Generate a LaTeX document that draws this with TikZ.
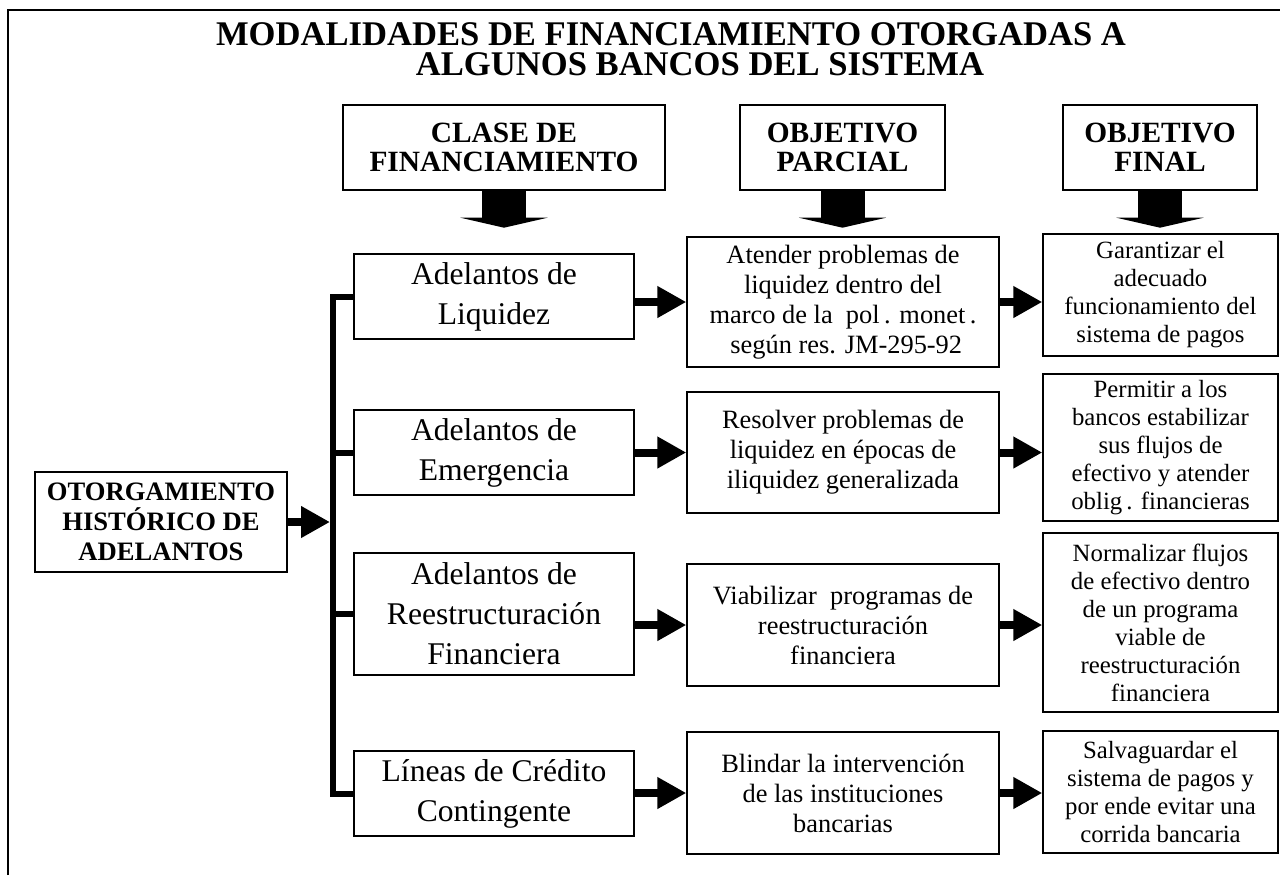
\documentclass[tikz,border=0pt]{standalone}
\usepackage{fontspec}
\setmainfont{Liberation Serif}
\usetikzlibrary{arrows.meta}

\begin{document}
\begin{tikzpicture}[x=0.5pt, y=-0.5pt,
  box/.style={draw, line width=0.7pt, align=center, inner sep=1pt},
  titulo/.style={inner sep=0pt, font=\bfseries\fontsize{17.3}{15}\selectfont},
  hdr/.style={box, font=\bfseries\fontsize{14.7}{14.5}\selectfont, minimum height=42.5pt},
  clase/.style={box, font=\fontsize{15.8}{20}\selectfont, minimum width=140pt},
  parcial/.style={box, font=\fontsize{13.2}{15}\selectfont, minimum width=156pt},
  final/.style={box, font=\fontsize{12.4}{14}\selectfont, minimum width=117.5pt},
  flecha/.style={line width=4pt, -{Triangle[length=14.5pt,width=15pt]}},
  bajada/.style={line width=22pt, -{Triangle[length=5pt,width=43.5pt]}},
  bus/.style={line width=3pt, line join=miter}]
  \useasboundingbox (0,0) rectangle (1280,875);

  % Frame
  \draw[line width=0.8pt] (8,875) -- (8,10) -- (1280,10);

  % Title
  \node[titulo] (title1) at (671,34) {MODALIDADES DE FINANCIAMIENTO OTORGADAS A};
  \node[titulo] (title2) at (700,64) {ALGUNOS BANCOS DEL SISTEMA};

  % Headers
  \node[hdr, minimum width=161pt] (hclase) at (504,147.5) {CLASE DE\\FINANCIAMIENTO};
  \node[hdr, minimum width=102.5pt] (hparcial) at (842.5,147.5) {OBJETIVO\\PARCIAL};
  \node[hdr, minimum width=97pt] (hfinal) at (1160,147.5) {OBJETIVO\\FINAL};

  \draw[bajada] (hclase.south) -- ++(0,37);
  \draw[bajada] (hparcial.south) -- ++(0,37);
  \draw[bajada] (hfinal.south) -- ++(0,37);

  % Origin
  \node[box, font=\bfseries\fontsize{13.3}{15}\selectfont, minimum width=126pt, minimum height=50pt] (origen) at (161,522) {OTORGAMIENTO\\HISTÓRICO DE\\ADELANTOS};
  \coordinate (bus) at (333,522);

  % Clase de financiamiento
  \node[clase, minimum height=42.5pt] (liq) at (494,296.5) {Adelantos de\\Liquidez};
  \node[clase, minimum height=42.5pt] (emer) at (494,452.5) {Adelantos de\\Emergencia};
  \node[clase, minimum height=61pt] (reest) at (494,614) {Adelantos de\\Reestructuración\\Financiera};
  \node[clase, minimum height=42.5pt] (lineas) at (494,793.5) {Líneas de Crédito\\Contingente};

  % Objetivo parcial
  \node[parcial, minimum height=65pt] (par1) at (843,302) {Atender problemas de\\liquidez dentro del\\marco de la\ \ pol\,. monet\,.\\\ según res. JM-295-92};
  \node[parcial, minimum height=60.5pt] (par2) at (843,452.5) {Resolver problemas de\\liquidez en épocas de\\iliquidez generalizada};
  \node[parcial, minimum height=61pt] (par3) at (843,625) {Viabilizar\ \ programas de\\reestructuración\\financiera};
  \node[parcial, minimum height=61pt] (par4) at (843,793) {Blindar la intervención\\de las instituciones\\bancarias};

  % Objetivo final
  \node[final, minimum height=61pt] (fin1) at (1160.5,295) {Garantizar el\\adecuado\\funcionamiento del\\sistema de pagos};
  \node[final, minimum height=73.5pt] (fin2) at (1160.5,447.5) {Permitir a los\\bancos estabilizar\\sus flujos de\\efectivo y atender\\oblig\,. financieras};
  \node[final, minimum height=89.5pt] (fin3) at (1160.5,622.5) {Normalizar flujos\\de efectivo dentro\\de un programa\\viable de\\reestructuración\\financiera};
  \node[final, minimum height=61pt] (fin4) at (1160.5,792) {Salvaguardar el\\sistema de pagos y\\por ende evitar una\\corrida bancaria};

  % Bus
  \draw[bus] (liq.west) -| (bus |- lineas.west) -- (lineas.west);
  \draw[bus] (emer.west) -- (emer.west -| bus);
  \draw[bus] (reest.west) -- (reest.west -| bus);
  \draw[flecha] (origen.east) -- ([xshift=-1.5pt]origen.east -| bus);

  % Arrows
  \draw[flecha] (par1.west -| liq.east) -- (par1.west);
  \draw[flecha] (par2.west -| emer.east) -- (par2.west);
  \draw[flecha] (par3.west -| reest.east) -- (par3.west);
  \draw[flecha] (par4.west -| lineas.east) -- (par4.west);
  \draw[flecha] (par1.east) -- (par1.east -| fin1.west);
  \draw[flecha] (par2.east) -- (par2.east -| fin2.west);
  \draw[flecha] (par3.east) -- (par3.east -| fin3.west);
  \draw[flecha] (par4.east) -- (par4.east -| fin4.west);
\end{tikzpicture}
\end{document}
